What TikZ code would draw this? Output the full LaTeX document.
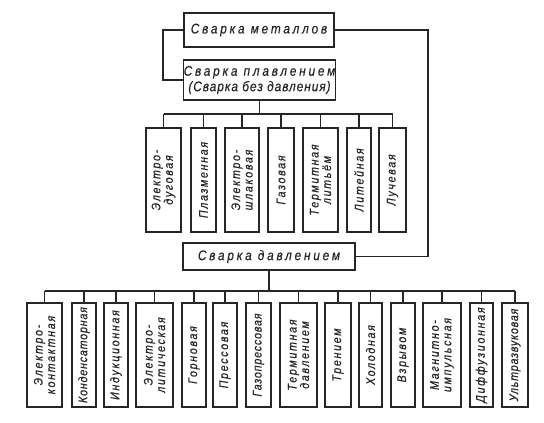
\documentclass[tikz,border=0pt]{standalone}
\usepackage{fontspec}
\newfontfamily\gostA[LetterSpace=20,FakeStretch=0.85,FakeBold=0.4]{Liberation Sans}
\newfontfamily\gostB[LetterSpace=7,FakeStretch=0.85,FakeBold=0.4]{Liberation Sans}
\newfontfamily\gostV[LetterSpace=14,FakeStretch=0.85,FakeBold=0.4]{Liberation Sans}
\newfontfamily\gostT[LetterSpace=7,FakeStretch=0.85,FakeBold=0.4]{Liberation Sans}
\begin{document}
\begin{tikzpicture}[x=1bp,y=-1bp,
  ln/.style={line width=1.2bp, draw=black!85},
  mainbox/.style={ln, draw, rectangle, inner sep=0pt, font=\gostA\itshape\fontsize{14}{15.5}\selectfont, align=center, text=black!85},
  vbox/.style={ln, draw, rectangle, inner sep=0pt, rotate=90, minimum width=104bp, align=center, text=black!85,
     font=\gostV\itshape\fontsize{12.5}{12.5}\selectfont},
  vtight/.style={font=\gostT\itshape\fontsize{12.5}{12.5}\selectfont}]
\useasboundingbox[fill=white] (0,0) rectangle (544,422);

% main boxes
\node[mainbox, minimum width=150bp, minimum height=34bp] (metal) at (259,30) {Сварка металлов};
\node[mainbox, minimum width=149bp, minimum height=40bp] (fusion) at (259.5,80) {Сварка плавлением\\{\gostB\itshape\fontsize{14}{15.5}\selectfont(Сварка без давления)}};
\node[mainbox, minimum width=172bp, minimum height=27bp] (press) at (269,256.5) {Сварка давлением};

% loops
\coordinate (lA) at (163,30);
\coordinate (lB) at (163,80);
\draw[ln] (metal.west) -- (lA) -- (lB) -- (fusion.west);
\coordinate (rA) at (428,30);
\coordinate (rB) at (428,256.5);
\draw[ln] (metal.east) -- (rA) -- (rB) -- (press.east);

% fusion row
\node[vbox, minimum height=35bp] (f1) at (163.5,180) {Электро-\\дуговая};
\node[vbox, minimum height=25bp] (f2) at (203.5,180) {Плазменная};
\node[vbox, minimum height=34bp] (f3) at (242,180) {Электро-\\шлаковая};
\node[vbox, minimum height=26bp] (f4) at (281,180) {Газовая};
\node[vbox, minimum height=35bp] (f5) at (320.5,180) {Термитная\\литьём};
\node[vbox, minimum height=24bp] (f6) at (359,180) {Литейная};
\node[vbox, minimum height=27bp] (f7) at (392.5,180) {Лучевая};

\coordinate (fbus) at (259.5,114);
\draw[ln] (fusion.south) -- (fbus);
\draw[ln] (f1.east |- fbus) -- (f7.east |- fbus);
\foreach \n in {f1,f2,f3,f4,f5,f6,f7}
  \draw[ln] (\n.east) -- (\n.east |- fbus);

% pressure row
\node[vbox, minimum height=35bp] (p1) at (44.5,355) {Электро-\\контактная};
\node[vbox, vtight, minimum height=24bp] (p2) at (84,355) {Конденсаторная};
\node[vbox, minimum height=24bp] (p3) at (116,355) {Индукционная};
\node[vbox, minimum height=37bp] (p4) at (154.5,355) {Электро-\\литическая};
\node[vbox, minimum height=24bp] (p5) at (194,355) {Горновая};
\node[vbox, minimum height=24bp] (p6) at (225,355) {Прессовая};
\node[vbox, vtight, minimum height=25bp] (p7) at (258.5,355) {Газопрессовая};
\node[vbox, minimum height=37bp] (p8) at (298.5,355) {Термитная\\давлением};
\node[vbox, minimum height=26bp] (p9) at (338,355) {Трением};
\node[vbox, minimum height=23bp] (p10) at (370.5,355) {Холодная};
\node[vbox, minimum height=24bp] (p11) at (403,355) {Взрывом};
\node[vbox, minimum height=38bp] (p12) at (442,355) {Магнитно-\\импульсная};
\node[vbox, minimum height=23bp] (p13) at (481.5,355) {Диффузионная};
\node[vbox, vtight, minimum height=26bp] (p14) at (515,355) {Ультразвуковая};

\coordinate (pbus) at (269,291);
\draw[ln] (press.south) -- (pbus);
\draw[ln] (p1.east |- pbus) -- (p14.east |- pbus);
\foreach \n in {p1,p2,p3,p4,p5,p6,p7,p8,p9,p10,p11,p12,p13,p14}
  \draw[ln] (\n.east) -- (\n.east |- pbus);
\end{tikzpicture}
\end{document}
